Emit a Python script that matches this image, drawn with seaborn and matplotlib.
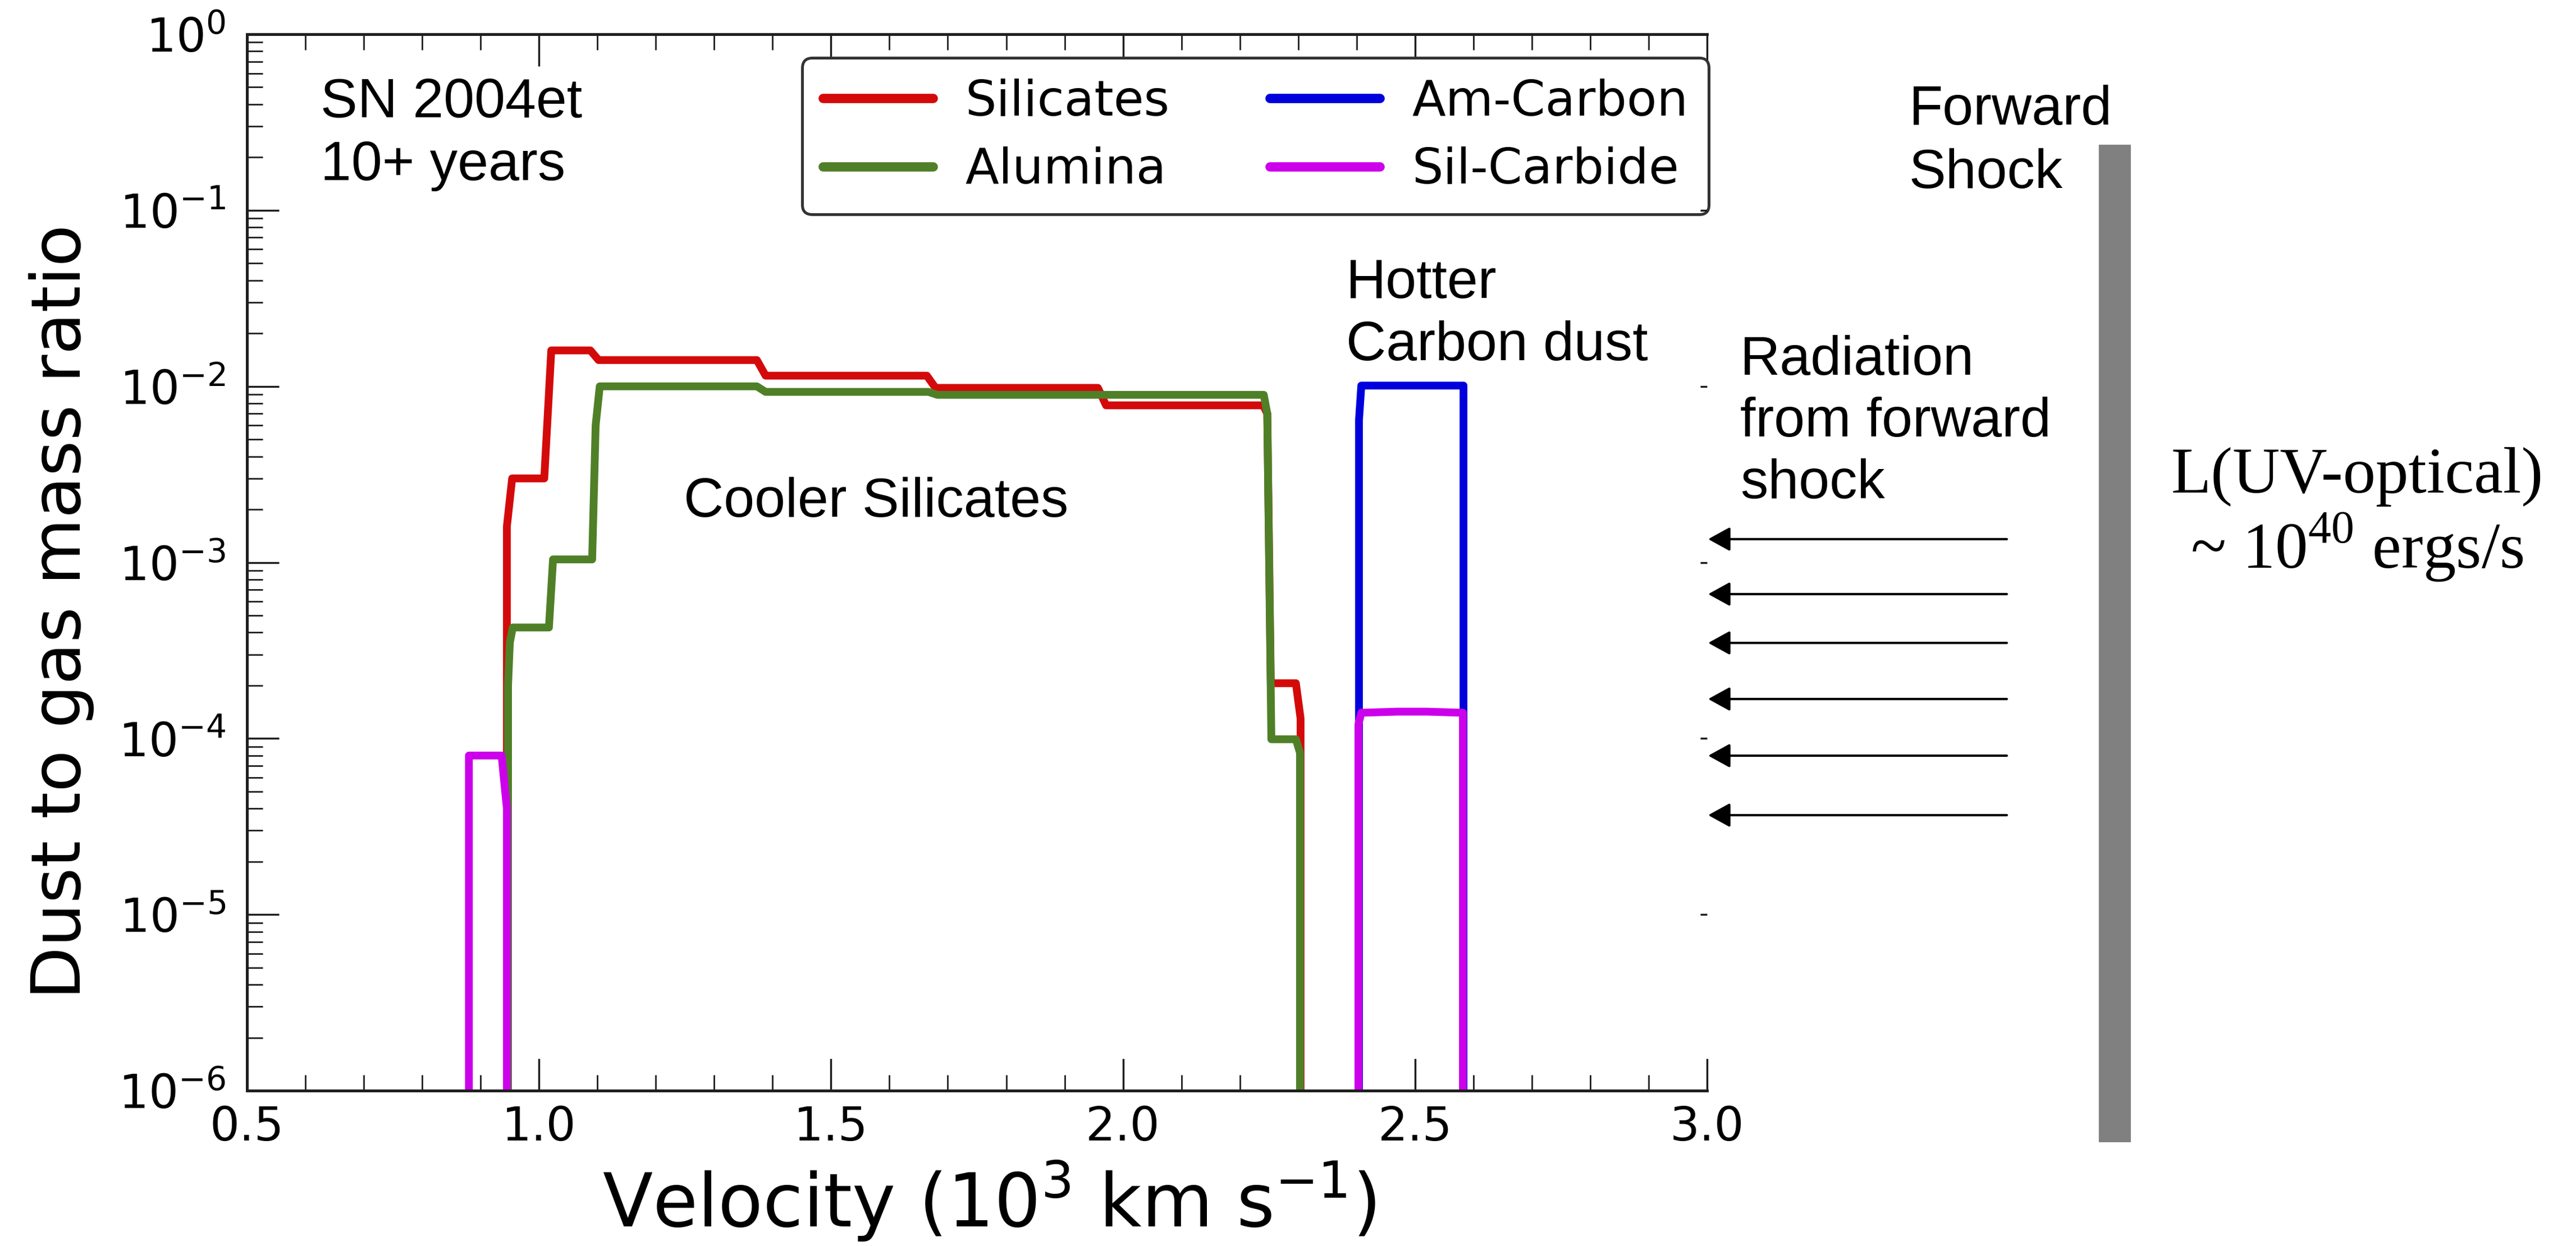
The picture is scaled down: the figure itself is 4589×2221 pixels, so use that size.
import numpy as np
import pandas as pd
import matplotlib
matplotlib.use("Agg")
import matplotlib.pyplot as plt
import seaborn as sns
from matplotlib.ticker import MultipleLocator, LogLocator, NullFormatter, NullLocator, FixedLocator
from matplotlib.patches import Rectangle, FancyArrowPatch

# ---------------- data ----------------
species = ["Silicates", "Alumina", "Am-Carbon", "Sil-Carbide"]
palette = ["#d40a0a", "#4f8028", "#0000dc", "#cc00ea"]

silicates_v = [0.944, 0.945, 0.954, 1.009, 1.021, 1.088, 1.102, 1.373, 1.388,
               1.664, 1.679, 1.957, 1.971, 2.240, 2.247, 2.253, 2.296, 2.304, 2.306]
silicates_y = [0.0, 1.6e-3, 3.0e-3, 3.0e-3, 1.6e-2, 1.6e-2, 1.41e-2, 1.41e-2, 1.15e-2,
               1.15e-2, 9.8e-3, 9.8e-3, 7.8e-3, 7.8e-3, 7.0e-3, 2.06e-4, 2.06e-4, 1.3e-4, 0.0]

alumina_v = [0.946, 0.947, 0.950, 0.955, 1.017, 1.024, 1.091, 1.097, 1.104, 1.373,
             1.388, 1.667, 1.682, 2.241, 2.247, 2.254, 2.296, 2.303, 2.304]
alumina_y = [0.0, 2.0e-4, 3.5e-4, 4.27e-4, 4.27e-4, 1.04e-3, 1.04e-3, 6.0e-3, 1.0e-2, 1.0e-2,
             9.3e-3, 9.3e-3, 8.95e-3, 8.95e-3, 7.0e-3, 9.9e-5, 9.9e-5, 8.3e-5, 0.0]

amcarbon_v = [2.404, 2.404, 2.408, 2.583, 2.583]
amcarbon_y = [0.0, 6.4e-3, 1.01e-2, 1.01e-2, 0.0]

silcarbide_v = [0.880, 0.880, 0.936, 0.945, 0.947, 2.403, 2.403, 2.408, 2.47, 2.52, 2.582, 2.582]
silcarbide_y = [0.0, 8.0e-5, 8.0e-5, 4.0e-5, 0.0, 0.0, 1.2e-4, 1.40e-4, 1.42e-4, 1.42e-4, 1.40e-4, 0.0]

x_ticks = [0.5, 1.0, 1.5, 2.0, 2.5, 3.0]

series_v = [silicates_v, alumina_v, amcarbon_v, silcarbide_v]
series_y = [silicates_y, alumina_y, amcarbon_y, silcarbide_y]
df = pd.concat(
    [pd.DataFrame({"v": v, "ratio": y, "species": s}) for s, v, y in zip(species, series_v, series_y)],
    ignore_index=True,
)

# ---------------- figure ----------------
W, H, DPI = 4589, 2221, 100
sns.set_style("ticks")
plt.rcParams["font.family"] = ["DejaVu Sans"]
plt.rcParams["text.color"] = "black"
plt.rcParams["axes.labelcolor"] = "black"
plt.rcParams["xtick.color"] = "black"
plt.rcParams["ytick.color"] = "black"

fig = plt.figure(figsize=(W / DPI, H / DPI), dpi=DPI)
L, R, T, B = 440, 3041, 61, 1944
ax = fig.add_axes([L / W, 1 - B / H, (R - L) / W, (B - T) / H])

sns.lineplot(data=df, x="v", y="ratio", hue="species", hue_order=species,
             palette=palette, estimator=None, sort=False, lw=10, ax=ax)

ax.set_yscale("log")
ax.set_xlim(0.5, 3.0)
ax.set_ylim(1e-6, 1.0)

ax.xaxis.set_major_locator(FixedLocator(x_ticks))
ax.xaxis.set_minor_locator(MultipleLocator(0.1))
ax.yaxis.set_major_locator(LogLocator(base=10, numticks=12))
ax.yaxis.set_minor_locator(LogLocator(base=10, subs=np.arange(2, 10), numticks=12))
ax.yaxis.set_minor_formatter(NullFormatter())

tick_col = "#1e1e1e"
ax.tick_params(axis="both", which="major", direction="in", length=41, width=2.5,
               labelsize=60, top=True, right=False, color=tick_col, labelcolor="black")
ax.tick_params(axis="both", which="minor", direction="in", length=20, width=2,
               top=True, right=False, color=tick_col)
ax.tick_params(axis="x", which="major", pad=18)
ax.tick_params(axis="y", which="major", pad=27)

for side in ["left", "bottom", "top"]:
    ax.spines[side].set_linewidth(3.6)
    ax.spines[side].set_color("#1e1e1e")
ax.spines["right"].set_visible(False)

# small right-hand decade ticks
ax2 = ax.twinx()
ax2.set_yscale("log")
ax2.set_ylim(1e-6, 1.0)
ax2.yaxis.set_major_locator(LogLocator(base=10, numticks=12))
ax2.yaxis.set_minor_locator(NullLocator())
ax2.tick_params(axis="y", which="major", direction="in", length=9, width=2.5,
                labelright=False, right=True, color=tick_col)
for sp in ax2.spines.values():
    sp.set_visible(False)

ax.set_xlabel("Velocity (10$^3$ km s$^{-1}$)", fontsize=94, va="baseline")
ax.xaxis.set_label_coords((1762 - L) / (R - L), -(2186 - B) / (B - T))
ax.set_ylabel("Dust to gas mass ratio", fontsize=88, va="baseline")
ax.yaxis.set_label_coords((143 - L) / (R - L), 1 - (1090 - T) / (B - T))

handles, labels = ax.get_legend_handles_labels()
leg = ax.legend(handles, labels, ncol=2, loc="upper right",
                bbox_to_anchor=((3044 - L) / (R - L), 1 - (103 - T) / (B - T)),
                borderaxespad=0, fontsize=63, handlelength=2.24, handletextpad=0.65,
                borderpad=0.42, labelspacing=0.43, columnspacing=2.05,
                frameon=True, fancybox=True, framealpha=1)
leg.get_frame().set_edgecolor("#333333")
leg.get_frame().set_linewidth(3.6)
for ln in leg.get_lines():
    ln.set_linewidth(12)
for t in leg.get_texts():
    t.set_color("black")


def ftext(x, y, s, **kw):
    fig.text(x / W, 1 - y / H, s, va="baseline", color="black", **kw)


sans = ["Liberation Sans", "DejaVu Sans"]
serif = ["Liberation Serif", "DejaVu Serif"]
ftext(571, 209, "SN 2004et", family=sans, fontsize=71)
ftext(571, 321, "10+ years", family=sans, fontsize=71)
ftext(1218, 921, "Cooler Silicates", family=sans, fontsize=71)
ftext(2398, 531, "Hotter", family=sans, fontsize=71)
ftext(2398, 642, "Carbon dust", family=sans, fontsize=71)
ftext(3100, 668, "Radiation", family=sans, fontsize=71)
ftext(3100, 778, "from forward", family=sans, fontsize=71)
ftext(3100, 888, "shock", family=sans, fontsize=71)
ftext(3401, 222, "Forward", family=sans, fontsize=71)
ftext(3401, 335, "Shock", family=sans, fontsize=71)
ftext(4199, 878, "L(UV-optical)", family=serif, fontsize=84, ha="center")
ftext(4199, 1013, "~ 10$^{\\mathregular{40}}$ ergs/s", family=serif, fontsize=84, ha="center")

# radiation arrows
for yy in [961, 1059, 1146, 1246, 1347, 1453]:
    fig.add_artist(FancyArrowPatch((3575 / W, 1 - yy / H), (3043 / W, 1 - yy / H),
                                   transform=fig.transFigure,
                                   arrowstyle="-|>,head_length=0.6,head_width=0.33",
                                   mutation_scale=40, lw=3, color="k",
                                   shrinkA=0, shrinkB=0))

# forward shock bar
fig.add_artist(Rectangle((3739 / W, (H - 2036) / H), 57 / W, (2036 - 258) / H,
                         transform=fig.transFigure, color="#808080", lw=0))

fig.savefig("out.png", dpi=DPI)
